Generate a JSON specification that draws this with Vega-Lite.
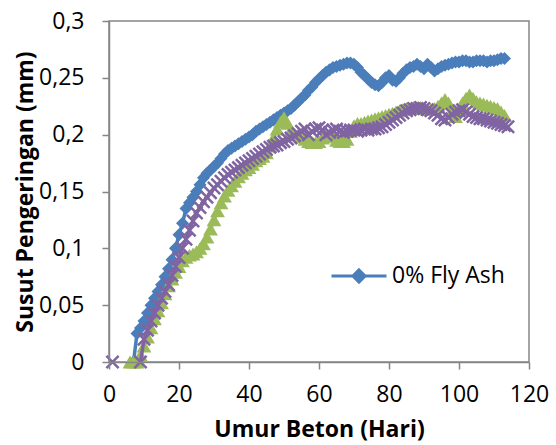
{
"$schema": "https://vega.github.io/schema/vega-lite/v6.json",
"width": 420, "height": 341,
"autosize": "none",
"padding": {"left": 109, "top": 21, "right": 27, "bottom": 83},
"config": {"view": {"stroke": "#868686", "strokeWidth": 1.5}, "font": "Open Sans"},
"datasets": {
"blue": [[7,0],[8,0.025],[9,0.03],[10,0.036],[11,0.043],[12,0.05],[13,0.056],[14,0.062],[15,0.068],[16,0.075],[17,0.082],[18,0.09],[19,0.1],[20,0.112],[21,0.122],[22,0.135],[23,0.14],[24,0.145],[25,0.15],[26,0.156],[27,0.162],[28,0.166],[29,0.169],[30,0.172],[31,0.175],[32,0.179],[33,0.183],[34,0.186],[35,0.188],[36,0.19],[37,0.192],[38,0.194],[39,0.196],[40,0.198],[41,0.2],[42,0.203],[43,0.205],[44,0.207],[45,0.209],[46,0.211],[47,0.213],[48,0.215],[49,0.217],[50,0.219],[51,0.221],[52,0.223],[53,0.226],[54,0.229],[55,0.232],[56,0.235],[57,0.239],[58,0.242],[59,0.246],[60,0.249],[61,0.252],[62,0.255],[63,0.257],[64,0.259],[65,0.26],[66,0.261],[67,0.262],[68,0.263],[69,0.263],[70,0.262],[71,0.259],[72,0.255],[73,0.252],[74,0.249],[75,0.246],[76,0.244],[77,0.243],[78,0.246],[79,0.25],[80,0.252],[81,0.248],[82,0.247],[83,0.25],[84,0.254],[85,0.257],[86,0.259],[87,0.26],[88,0.262],[89,0.26],[90,0.258],[91,0.262],[92,0.259],[93,0.256],[94,0.258],[95,0.26],[96,0.261],[97,0.262],[98,0.263],[99,0.264],[100,0.264],[101,0.265],[102,0.265],[103,0.264],[104,0.264],[105,0.265],[106,0.265],[107,0.265],[108,0.264],[109,0.265],[110,0.265],[111,0.266],[112,0.267],[113,0.267]],
"green": [[6,0],[7,0],[8,0],[9,0.006],[10,0.014],[11,0.022],[12,0.03],[13,0.038],[14,0.045],[15,0.052],[16,0.06],[17,0.067],[18,0.073],[19,0.079],[20,0.084],[21,0.089],[22,0.092],[23,0.094],[24,0.095],[25,0.097],[26,0.1],[27,0.104],[28,0.11],[29,0.117],[30,0.125],[31,0.133],[32,0.14],[33,0.146],[34,0.151],[35,0.155],[36,0.159],[37,0.163],[38,0.166],[39,0.169],[40,0.171],[41,0.174],[42,0.177],[43,0.179],[44,0.181],[45,0.184],[46,0.19],[47,0.197],[48,0.205],[49,0.211],[50,0.215],[51,0.21],[52,0.204],[53,0.2],[54,0.2],[55,0.198],[56,0.196],[57,0.194],[58,0.193],[59,0.193],[60,0.194],[61,0.197],[62,0.2],[63,0.2],[64,0.198],[65,0.195],[66,0.194],[67,0.194],[68,0.196],[69,0.203],[70,0.208],[71,0.21],[72,0.21],[73,0.211],[74,0.212],[75,0.213],[76,0.214],[77,0.215],[78,0.216],[79,0.217],[80,0.218],[81,0.219],[82,0.22],[83,0.221],[84,0.222],[85,0.223],[86,0.223],[87,0.224],[88,0.224],[89,0.224],[90,0.223],[91,0.222],[92,0.222],[93,0.223],[94,0.225],[95,0.228],[96,0.231],[97,0.228],[98,0.22],[99,0.216],[100,0.222],[101,0.228],[102,0.232],[103,0.235],[104,0.232],[105,0.229],[106,0.228],[107,0.227],[108,0.226],[109,0.225],[110,0.224],[111,0.223],[112,0.22],[113,0.217]],
"purple": [[1,0],[9,0],[10,0.02],[11,0.028],[12,0.036],[13,0.043],[14,0.05],[15,0.056],[16,0.062],[17,0.068],[18,0.076],[19,0.084],[20,0.092],[21,0.1],[22,0.108],[23,0.116],[24,0.124],[25,0.131],[26,0.136],[27,0.141],[28,0.145],[29,0.149],[30,0.153],[31,0.156],[32,0.159],[33,0.162],[34,0.165],[35,0.167],[36,0.169],[37,0.171],[38,0.173],[39,0.175],[40,0.177],[41,0.179],[42,0.181],[43,0.183],[44,0.185],[45,0.187],[46,0.189],[47,0.19],[48,0.191],[49,0.193],[50,0.194],[51,0.196],[52,0.197],[53,0.199],[54,0.201],[55,0.203],[56,0.205],[57,0.2],[58,0.203],[59,0.205],[60,0.206],[61,0.204],[62,0.2],[63,0.202],[64,0.204],[65,0.205],[66,0.203],[67,0.202],[68,0.203],[69,0.204],[70,0.204],[71,0.203],[72,0.204],[73,0.205],[74,0.204],[75,0.205],[76,0.205],[77,0.206],[78,0.207],[79,0.209],[80,0.211],[81,0.213],[82,0.215],[83,0.217],[84,0.219],[85,0.221],[86,0.222],[87,0.223],[88,0.223],[89,0.224],[90,0.223],[91,0.222],[92,0.221],[93,0.219],[94,0.217],[95,0.214],[96,0.213],[97,0.215],[98,0.218],[99,0.22],[100,0.221],[101,0.222],[102,0.22],[103,0.218],[104,0.216],[105,0.215],[106,0.214],[107,0.214],[108,0.213],[109,0.212],[110,0.211],[111,0.21],[112,0.209],[113,0.208],[114,0.207]]
},
"encoding": {
  "x": {"field": "day", "type": "quantitative",
        "scale": {"domain": [0, 120], "nice": false},
        "axis": {"values": [0,20,40,60,80,100,120], "title": "Umur Beton (Hari)", "grid": false, "labelFlush": false,
                 "domainColor": "#868686", "domainWidth": 1.5, "tickColor": "#868686", "tickWidth": 1.5, "tickSize": 7,
                 "labelFontSize": 23, "labelColor": "#000000", "labelPadding": 14, "labelFont": "Open Sans",
                 "titleFontSize": 23, "titleFontWeight": "bold", "titleColor": "#000000", "titlePadding": 12, "titleFont": "Open Sans", "zindex": 1}},
  "y": {"field": "v", "type": "quantitative",
        "scale": {"domain": [0, 0.3], "nice": false},
        "axis": {"values": [0,0.05,0.1,0.15,0.2,0.25,0.3], "title": "Susut Pengeringan (mm)", "grid": false, "labelFlush": false,
                 "labelExpr": "replace(format(datum.value, '.2~f'), '.', ',')",
                 "domainColor": "#868686", "domainWidth": 1.5, "tickColor": "#868686", "tickWidth": 1.5, "tickSize": 7,
                 "labelFontSize": 23, "labelColor": "#000000", "labelPadding": 18, "labelFont": "Open Sans",
                 "titleFontSize": 23, "titleFontWeight": "bold", "titleColor": "#000000", "titlePadding": 1, "titleFont": "Open Sans", "zindex": 1}},
  "color": {"field": "series", "type": "nominal",
            "scale": {"domain": ["0% Fly Ash", "10% Fly Ash", "20% Fly Ash"], "range": ["#4A7EBB", "#9BBB59", "#8064A2"]},
            "legend": {"values": ["0% Fly Ash"], "orient": "none", "legendX": 221, "legendY": 226, "title": null, "padding": 0,
                       "labelFontSize": 23, "labelColor": "#000000", "labelFont": "Open Sans", "labelOffset": 4,
                       "symbolType": "M-1,0H1M0,-0.22L0.22,0L0,0.22L-0.22,0Z", "symbolSize": 3025,
                       "encode": {"symbols": {"update": {"fill": {"value": "#4A7EBB"}, "stroke": {"value": "#4A7EBB"}, "strokeWidth": {"value": 3}, "opacity": {"value": 1}}}}}}
},
"layer": [
  {"data": {"name": "blue"}, "transform": [{"calculate": "datum[0]", "as": "day"}, {"calculate": "datum[1]", "as": "v"}, {"calculate": "'0% Fly Ash'", "as": "series"}],
   "mark": {"type": "line", "strokeWidth": 3.5}},
  {"data": {"name": "blue"}, "transform": [{"calculate": "datum[0]", "as": "day"}, {"calculate": "datum[1]", "as": "v"}, {"calculate": "'0% Fly Ash'", "as": "series"}],
   "mark": {"type": "point", "shape": "diamond", "filled": true, "size": 170, "opacity": 1}},
  {"data": {"name": "green"}, "transform": [{"calculate": "datum[0]", "as": "day"}, {"calculate": "datum[1]", "as": "v"}, {"calculate": "'10% Fly Ash'", "as": "series"}],
   "mark": {"type": "line", "strokeWidth": 3.5}},
  {"data": {"name": "green"}, "transform": [{"calculate": "datum[0]", "as": "day"}, {"calculate": "datum[1]", "as": "v"}, {"calculate": "'10% Fly Ash'", "as": "series"}],
   "mark": {"type": "point", "shape": "triangle-up", "filled": true, "size": 220, "opacity": 1}},
  {"data": {"name": "purple"}, "transform": [{"calculate": "datum[0]", "as": "day"}, {"calculate": "datum[1]", "as": "v"}, {"calculate": "'20% Fly Ash'", "as": "series"}, {"filter": "datum.day > 1"}],
   "mark": {"type": "line", "strokeWidth": 3.5}},
  {"data": {"name": "purple"}, "transform": [{"calculate": "datum[0]", "as": "day"}, {"calculate": "datum[1]", "as": "v"}, {"calculate": "'20% Fly Ash'", "as": "series"}],
   "mark": {"type": "point", "shape": "M-1,-1L1,1M-1,1L1,-1", "filled": false, "size": 150, "strokeWidth": 2.5, "opacity": 1}}
]
}
